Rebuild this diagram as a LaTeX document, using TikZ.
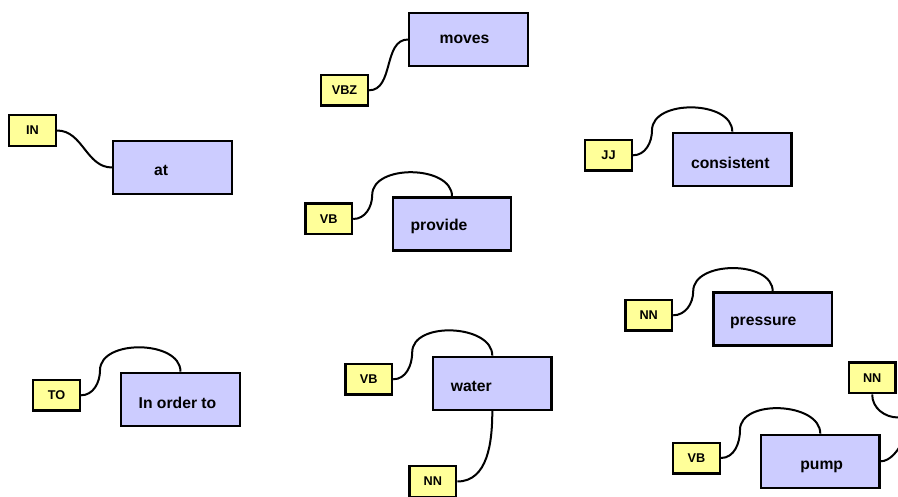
\documentclass[tikz,border=0pt]{standalone}
\usepackage{fontspec}
\setmainfont{Liberation Sans}
\definecolor{wordblue}{RGB}{204,204,255}
\definecolor{tagyellow}{RGB}{255,255,153}

\begin{document}
\begin{tikzpicture}[x=1pt,y=1pt,
  wordbox/.style={draw,line width=2.4pt,fill=wordblue,minimum width=118.5pt,minimum height=53pt,inner sep=0pt},
  word/.style={font=\fontsize{15.7}{18}\selectfont\bfseries,inner sep=0pt},
  postag/.style={draw,line width=2.4pt,fill=tagyellow,minimum width=46.6pt,minimum height=30.6pt,inner sep=0pt,font=\fontsize{12.7}{14}\selectfont\bfseries},
  tie/.style={line width=2pt}]
\clip (0,0) rectangle (898,-497);

\node[wordbox] (at) at (172.5,-167.5) {};
\node[word] (at-t) at ([shift={(-11.5,-3)}]at.center) {at};
\node[postag] (posIN) at (32.5,-130.5) {IN};

\node[wordbox] (moves) at (468.5,-39.5) {};
\node[word] (moves-t) at ([shift={(-4,0)}]moves.center) {moves};
\node[postag] (posVBZ) at (344.5,-90.3) {VBZ};

\node[wordbox] (provide) at (452,-224) {};
\node[word] (provide-t) at ([shift={(-13,-2.7)}]provide.center) {provide};
\node[postag] (posVBa) at (328.7,-219) {VB};

\node[wordbox] (consistent) at (732.3,-159.3) {};
\node[word] (consistent-t) at ([shift={(-2,-3.4)}]consistent.center) {consistent};
\node[postag] (posJJ) at (608.5,-155.3) {JJ};

\node[wordbox] (pressure) at (772.7,-319) {};
\node[word] (pressure-t) at ([shift={(-9.4,-3.7)}]pressure.center) {pressure};
\node[postag] (posNNa) at (648.7,-315.3) {NN};

\node[wordbox] (inorderto) at (180.5,-399.3) {};
\node[word] (inorderto-t) at ([shift={(-3,-3.4)}]inorderto.center) {In order to};
\node[postag] (posTO) at (56.5,-395.3) {TO};

\node[wordbox] (water) at (492.3,-383.3) {};
\node[word] (water-t) at ([shift={(-21,-3.4)}]water.center) {water};
\node[postag] (posVBb) at (368.7,-379.3) {VB};
\node[postag] (posNNb) at (432.8,-481.5) {NN};

\node[wordbox] (pump) at (820.3,-461.3) {};
\node[word] (pump-t) at ([shift={(1.4,-5.4)}]pump.center) {pump};
\node[postag] (posVBc) at (696.5,-458) {VB};
\node[postag] (posNNc) at (872.2,-378) {NN};

\draw[tie] (posIN.east) to[out=0,in=180] (at.west);
\draw[tie] (posVBZ.east) to[out=0,in=180] (moves.west);
\draw[tie] (posVBa.east) to[out=0,in=-90] ++(19,24) to[out=90,in=90] (provide.north);
\draw[tie] (posJJ.east) to[out=0,in=-90] ++(19,25) to[out=90,in=90] (consistent.north);
\draw[tie] (posNNa.east) to[out=0,in=-90] ++(20,24) to[out=90,in=90] (pressure.north);
\draw[tie] (posTO.east) to[out=0,in=-90] ++(19,25) to[out=90,in=90] (inorderto.north);
\draw[tie] (posVBb.east) to[out=0,in=-90] ++(19,27) to[out=90,in=90] (water.north);
\draw[tie] (posNNb.east) to[out=0,in=-90] (water.south);
\draw[tie] (posVBc.east) to[out=0,in=-90] ++(19,28) to[out=90,in=90] (pump.north);
\draw[tie] (posNNc.south) to[out=-90,in=180] ++(26,-23) to[out=0,in=0] (pump.east);
\end{tikzpicture}
\end{document}
